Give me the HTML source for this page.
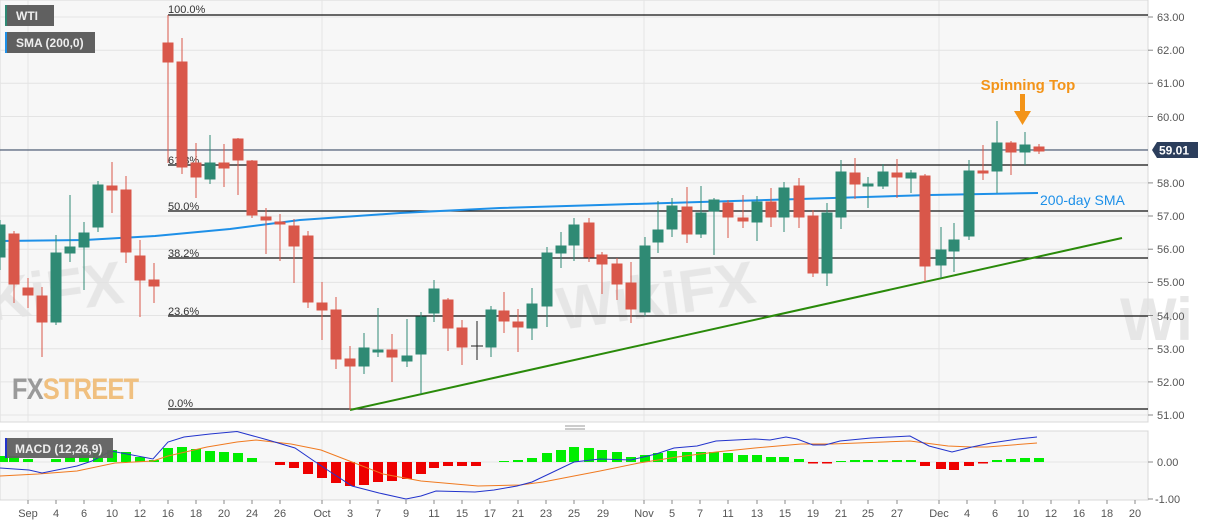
<!DOCTYPE html>
<html><head><meta charset="utf-8"><style>
html,body{margin:0;padding:0;background:#fff;}
svg{display:block;font-family:"Liberation Sans",sans-serif;}
</style></head><body>
<svg width="1207" height="526" viewBox="0 0 1207 526" xmlns="http://www.w3.org/2000/svg">
<rect x="0" y="0" width="1207" height="526" fill="#fff"/>
<rect x="0" y="0" width="1148" height="422" fill="#f7f7f7" stroke="#d8d8d8"/>
<rect x="0" y="431" width="1148" height="69" fill="#f7f7f7" stroke="#d8d8d8"/>
<g stroke="#e4e4e4" stroke-width="1">
<line x1="0" x2="1148" y1="17" y2="17"/><line x1="0" x2="1148" y1="50.2" y2="50.2"/><line x1="0" x2="1148" y1="83.3" y2="83.3"/><line x1="0" x2="1148" y1="116.5" y2="116.5"/><line x1="0" x2="1148" y1="149.7" y2="149.7"/><line x1="0" x2="1148" y1="182.9" y2="182.9"/><line x1="0" x2="1148" y1="216" y2="216"/><line x1="0" x2="1148" y1="249.2" y2="249.2"/><line x1="0" x2="1148" y1="282.4" y2="282.4"/><line x1="0" x2="1148" y1="315.5" y2="315.5"/><line x1="0" x2="1148" y1="348.7" y2="348.7"/><line x1="0" x2="1148" y1="381.9" y2="381.9"/><line x1="0" x2="1148" y1="415" y2="415"/>
<line x1="28" x2="28" y1="0" y2="422"/><line x1="322" x2="322" y1="0" y2="422"/><line x1="644" x2="644" y1="0" y2="422"/><line x1="939" x2="939" y1="0" y2="422"/>
<line x1="28" x2="28" y1="431" y2="500"/><line x1="322" x2="322" y1="431" y2="500"/><line x1="644" x2="644" y1="431" y2="500"/><line x1="939" x2="939" y1="431" y2="500"/>
<line x1="0" x2="1148" y1="462" y2="462"/>
</g>
<!-- watermarks -->
<g fill="#e2e2e2" font-weight="bold" opacity="0.8">
<text x="-10" y="320" font-size="60" transform="rotate(-8 0 320)">KiFX</text>
<text x="560" y="330" font-size="60" transform="rotate(-8 560 330)">WikiFX</text>
<text x="1120" y="340" font-size="60">Wi</text>
</g>
<text x="14" y="399" font-size="30" font-weight="bold" fill="#9a9a9a" transform="scale(0.85 1)" style="letter-spacing:-1px">FX<tspan fill="#f0c080">STREET</tspan></text>
<!-- Fib lines -->
<g stroke="#111" stroke-width="1.2">
<line x1="168" x2="1148" y1="15" y2="15"/><line x1="168" x2="1148" y1="165" y2="165"/><line x1="168" x2="1148" y1="211" y2="211"/><line x1="168" x2="1148" y1="258" y2="258"/><line x1="168" x2="1148" y1="316" y2="316"/><line x1="168" x2="1148" y1="409" y2="409"/>
</g>
<g font-size="11" fill="#333">
<text x="168" y="13">100.0%</text><text x="168" y="164">61.8%</text><text x="168" y="210">50.0%</text><text x="168" y="257">38.2%</text><text x="168" y="315">23.6%</text><text x="168" y="407">0.0%</text>
</g>
<line x1="0" x2="1148" y1="150" y2="150" stroke="#2c3e5c" stroke-width="1"/>
<!-- SMA -->
<polyline fill="none" stroke="#1e90e8" stroke-width="2" points="0,241 85,240 155,236 230,229 300,220 400,213 500,208 600,205 700,202 800,199 930,195 1038,193"/>
<text x="1040" y="205" font-size="14" fill="#1e90e8">200-day SMA</text>
<!-- trend -->
<line x1="350" y1="410" x2="1122" y2="238" stroke="#2a8a0a" stroke-width="2"/>
<!-- red candles -->
<g fill="#d9574a" stroke="#d9574a">
<line x1="14" x2="14" y1="231" y2="303"/><rect x="9" y="234" width="10" height="50"/>
<line x1="28" x2="28" y1="278" y2="308"/><rect x="23" y="288" width="10" height="7"/>
<line x1="42" x2="42" y1="287" y2="357"/><rect x="37" y="296" width="10" height="26"/>
<line x1="112" x2="112" y1="162" y2="213"/><rect x="107" y="186" width="10" height="4"/>
<line x1="126" x2="126" y1="176" y2="263"/><rect x="121" y="190" width="10" height="62"/>
<line x1="140" x2="140" y1="240" y2="317"/><rect x="135" y="256" width="10" height="24"/>
<line x1="154" x2="154" y1="263" y2="303"/><rect x="149" y="280" width="10" height="6"/>
<line x1="168" x2="168" y1="15" y2="163"/><rect x="163" y="43" width="10" height="19"/>
<line x1="182" x2="182" y1="38" y2="174"/><rect x="177" y="62" width="10" height="105"/>
<line x1="196" x2="196" y1="143" y2="198"/><rect x="191" y="163" width="10" height="14"/>
<line x1="224" x2="224" y1="144" y2="187"/><rect x="219" y="163" width="10" height="5"/>
<line x1="238" x2="238" y1="138" y2="195"/><rect x="233" y="139" width="10" height="21"/>
<line x1="252" x2="252" y1="160" y2="218"/><rect x="247" y="161" width="10" height="54"/>
<line x1="266" x2="266" y1="208" y2="254"/><rect x="261" y="217" width="10" height="3"/>
<line x1="280" x2="280" y1="214" y2="261"/><rect x="275" y="222" width="10" height="2"/>
<line x1="294" x2="294" y1="219" y2="283"/><rect x="289" y="226" width="10" height="20"/>
<line x1="308" x2="308" y1="231" y2="308"/><rect x="303" y="236" width="10" height="66"/>
<line x1="322" x2="322" y1="282" y2="340"/><rect x="317" y="303" width="10" height="7"/>
<line x1="336" x2="336" y1="297" y2="369"/><rect x="331" y="310" width="10" height="49"/>
<line x1="350" x2="350" y1="346" y2="410"/><rect x="345" y="359" width="10" height="7"/>
<line x1="392" x2="392" y1="334" y2="382"/><rect x="387" y="350" width="10" height="7"/>
<line x1="448" x2="448" y1="298" y2="351"/><rect x="443" y="300" width="10" height="28"/>
<line x1="462" x2="462" y1="320" y2="365"/><rect x="457" y="328" width="10" height="19"/>
<line x1="504" x2="504" y1="292" y2="333"/><rect x="499" y="311" width="10" height="10"/>
<line x1="518" x2="518" y1="309" y2="352"/><rect x="513" y="322" width="10" height="5"/>
<line x1="589" x2="589" y1="218" y2="262"/><rect x="584" y="223" width="10" height="34"/>
<line x1="602" x2="602" y1="252" y2="294"/><rect x="597" y="255" width="10" height="9"/>
<line x1="617" x2="617" y1="258" y2="300"/><rect x="612" y="264" width="10" height="20"/>
<line x1="631" x2="631" y1="262" y2="323"/><rect x="626" y="283" width="10" height="26"/>
<line x1="687" x2="687" y1="187" y2="243"/><rect x="682" y="207" width="10" height="27"/>
<line x1="728" x2="728" y1="200" y2="238"/><rect x="723" y="203" width="10" height="14"/>
<line x1="743" x2="743" y1="195" y2="228"/><rect x="738" y="218" width="10" height="3"/>
<line x1="771" x2="771" y1="188" y2="227"/><rect x="766" y="202" width="10" height="15"/>
<line x1="799" x2="799" y1="178" y2="228"/><rect x="794" y="186" width="10" height="31"/>
<line x1="813" x2="813" y1="210" y2="277"/><rect x="808" y="216" width="10" height="57"/>
<line x1="855" x2="855" y1="158" y2="199"/><rect x="850" y="173" width="10" height="11"/>
<line x1="897" x2="897" y1="159" y2="198"/><rect x="892" y="173" width="10" height="4"/>
<line x1="925" x2="925" y1="174" y2="282"/><rect x="920" y="176" width="10" height="90"/>
<line x1="983" x2="983" y1="145" y2="180"/><rect x="978" y="171" width="10" height="2"/>
<line x1="1011" x2="1011" y1="141" y2="175"/><rect x="1006" y="143" width="10" height="9"/>
<line x1="1039" x2="1039" y1="144" y2="154"/><rect x="1034" y="147" width="10" height="4"/>
</g>
<!-- green candles -->
<g fill="#2f8a74" stroke="#2f8a74">
<line x1="0" x2="0" y1="220" y2="270"/><rect x="-5" y="225" width="10" height="32"/>
<line x1="56" x2="56" y1="235" y2="325"/><rect x="51" y="253" width="10" height="69"/>
<line x1="70" x2="70" y1="195" y2="262"/><rect x="65" y="247" width="10" height="6"/>
<line x1="84" x2="84" y1="222" y2="290"/><rect x="79" y="233" width="10" height="14"/>
<line x1="98" x2="98" y1="181" y2="232"/><rect x="93" y="185" width="10" height="42"/>
<line x1="210" x2="210" y1="135" y2="184"/><rect x="205" y="163" width="10" height="16"/>
<line x1="364" x2="364" y1="333" y2="374"/><rect x="359" y="348" width="10" height="18"/>
<line x1="378" x2="378" y1="308" y2="357"/><rect x="373" y="350" width="10" height="2"/>
<line x1="407" x2="407" y1="319" y2="367"/><rect x="402" y="356" width="10" height="5"/>
<line x1="421" x2="421" y1="312" y2="394"/><rect x="416" y="317" width="10" height="37"/>
<line x1="434" x2="434" y1="280" y2="322"/><rect x="429" y="289" width="10" height="24"/>
<line x1="491" x2="491" y1="306" y2="357"/><rect x="486" y="310" width="10" height="37"/>
<line x1="532" x2="532" y1="288" y2="340"/><rect x="527" y="304" width="10" height="24"/>
<line x1="547" x2="547" y1="247" y2="327"/><rect x="542" y="253" width="10" height="53"/>
<line x1="561" x2="561" y1="232" y2="268"/><rect x="556" y="246" width="10" height="7"/>
<line x1="574" x2="574" y1="218" y2="261"/><rect x="569" y="225" width="10" height="20"/>
<line x1="645" x2="645" y1="237" y2="316"/><rect x="640" y="246" width="10" height="66"/>
<line x1="658" x2="658" y1="201" y2="253"/><rect x="653" y="230" width="10" height="12"/>
<line x1="672" x2="672" y1="198" y2="237"/><rect x="667" y="206" width="10" height="23"/>
<line x1="701" x2="701" y1="186" y2="238"/><rect x="696" y="213" width="10" height="21"/>
<line x1="714" x2="714" y1="198" y2="255"/><rect x="709" y="200" width="10" height="11"/>
<line x1="757" x2="757" y1="196" y2="241"/><rect x="752" y="202" width="10" height="20"/>
<line x1="784" x2="784" y1="182" y2="232"/><rect x="779" y="188" width="10" height="29"/>
<line x1="827" x2="827" y1="203" y2="286"/><rect x="822" y="213" width="10" height="60"/>
<line x1="841" x2="841" y1="160" y2="229"/><rect x="836" y="172" width="10" height="45"/>
<line x1="868" x2="868" y1="177" y2="208"/><rect x="863" y="184" width="10" height="2"/>
<line x1="883" x2="883" y1="164" y2="189"/><rect x="878" y="172" width="10" height="14"/>
<line x1="911" x2="911" y1="170" y2="193"/><rect x="906" y="173" width="10" height="5"/>
<line x1="941" x2="941" y1="227" y2="278"/><rect x="936" y="250" width="10" height="15"/>
<line x1="954" x2="954" y1="223" y2="272"/><rect x="949" y="240" width="10" height="11"/>
<line x1="969" x2="969" y1="160" y2="240"/><rect x="964" y="171" width="10" height="65"/>
<line x1="997" x2="997" y1="121" y2="193"/><rect x="992" y="143" width="10" height="28"/>
<line x1="1025" x2="1025" y1="132" y2="165"/><rect x="1020" y="145" width="10" height="7"/>
</g>
<g stroke="#222"><line x1="477" x2="477" y1="321" y2="360"/><line x1="471" x2="483" y1="346" y2="346"/></g>
<!-- spinning top -->
<text x="1028" y="90" font-size="15" font-weight="bold" fill="#f39419" text-anchor="middle">Spinning Top</text>
<rect x="1020" y="94" width="5" height="18" fill="#f39419"/>
<polygon points="1014,111 1031,111 1022.5,125" fill="#f39419"/>
<!-- price axis -->
<g stroke="#888"><line x1="1148" x2="1153" y1="17" y2="17"/><line x1="1148" x2="1153" y1="50.2" y2="50.2"/><line x1="1148" x2="1153" y1="83.3" y2="83.3"/><line x1="1148" x2="1153" y1="116.5" y2="116.5"/><line x1="1148" x2="1153" y1="182.9" y2="182.9"/><line x1="1148" x2="1153" y1="216" y2="216"/><line x1="1148" x2="1153" y1="249.2" y2="249.2"/><line x1="1148" x2="1153" y1="282.4" y2="282.4"/><line x1="1148" x2="1153" y1="315.5" y2="315.5"/><line x1="1148" x2="1153" y1="348.7" y2="348.7"/><line x1="1148" x2="1153" y1="381.9" y2="381.9"/><line x1="1148" x2="1153" y1="415" y2="415"/><line x1="1148" x2="1153" y1="462" y2="462"/><line x1="1148" x2="1153" y1="499" y2="499"/></g>
<g font-size="11" fill="#555">
<text x="1157" y="21">63.00</text><text x="1157" y="54">62.00</text><text x="1157" y="87">61.00</text><text x="1157" y="121">60.00</text><text x="1157" y="187">58.00</text><text x="1157" y="220">57.00</text><text x="1157" y="253">56.00</text><text x="1157" y="286">55.00</text><text x="1157" y="320">54.00</text><text x="1157" y="353">53.00</text><text x="1157" y="386">52.00</text><text x="1157" y="419">51.00</text>
<text x="1157" y="466">0.00</text><text x="1155" y="503">-1.00</text>
</g>
<polygon points="1152,150 1157,142 1198,142 1198,158 1157,158" fill="#2c3e5c"/>
<text x="1159" y="154.5" font-size="12" font-weight="bold" fill="#fff">59.01</text>
<!-- legends -->
<rect x="5" y="5" width="49" height="21" fill="#606060"/><rect x="5" y="5" width="2" height="21" fill="#2f8a74"/>
<text x="16" y="20" font-size="12" font-weight="bold" fill="#eee">WTI</text>
<rect x="5" y="32" width="90" height="21" fill="#606060"/><rect x="5" y="32" width="2" height="21" fill="#1e90e8"/>
<text x="16" y="47" font-size="12" font-weight="bold" fill="#eee">SMA (200,0)</text>
<g stroke="#999"><line x1="565" x2="585" y1="426" y2="426"/><line x1="565" x2="585" y1="429" y2="429"/></g>
<!-- MACD histogram -->
<g fill="#00ee00">
<rect x="-3" y="456" width="11" height="6"/><rect x="9" y="456" width="10" height="6"/><rect x="23" y="459" width="10" height="3"/><rect x="51" y="459" width="10" height="3"/><rect x="65" y="457" width="10" height="5"/><rect x="79" y="455" width="10" height="7"/><rect x="93" y="452" width="10" height="10"/><rect x="107" y="450" width="10" height="12"/><rect x="121" y="452" width="10" height="10"/><rect x="135" y="457" width="10" height="5"/><rect x="149" y="460" width="10" height="2"/><rect x="163" y="448" width="10" height="14"/><rect x="177" y="447" width="10" height="15"/><rect x="191" y="449" width="10" height="13"/><rect x="205" y="451" width="10" height="11"/><rect x="219" y="452" width="10" height="10"/><rect x="233" y="453" width="10" height="9"/><rect x="247" y="458" width="10" height="4"/>
<rect x="499" y="461" width="10" height="1"/><rect x="513" y="460" width="10" height="2"/><rect x="527" y="458" width="10" height="4"/><rect x="542" y="453" width="10" height="9"/><rect x="556" y="450" width="10" height="12"/><rect x="569" y="447" width="10" height="15"/><rect x="584" y="448" width="10" height="14"/><rect x="597" y="450" width="10" height="12"/><rect x="612" y="452" width="10" height="10"/><rect x="626" y="457" width="10" height="5"/><rect x="640" y="455" width="10" height="7"/><rect x="653" y="453" width="10" height="9"/><rect x="667" y="451" width="10" height="11"/><rect x="682" y="452" width="10" height="10"/><rect x="696" y="452" width="10" height="10"/><rect x="709" y="452" width="10" height="10"/><rect x="723" y="453" width="10" height="9"/><rect x="738" y="455" width="10" height="7"/><rect x="752" y="455" width="10" height="7"/><rect x="766" y="457" width="10" height="5"/><rect x="779" y="457" width="10" height="5"/><rect x="794" y="459" width="10" height="3"/>
<rect x="836" y="461" width="10" height="1"/><rect x="850" y="460" width="10" height="2"/><rect x="863" y="460" width="10" height="2"/><rect x="878" y="460" width="10" height="2"/><rect x="892" y="460" width="10" height="2"/><rect x="906" y="460" width="10" height="2"/>
<rect x="992" y="460" width="10" height="2"/><rect x="1006" y="459" width="10" height="3"/><rect x="1020" y="458" width="10" height="4"/><rect x="1034" y="458" width="10" height="4"/>
</g>
<g fill="#ee0000">
<rect x="275" y="462" width="10" height="3"/><rect x="289" y="462" width="10" height="6"/><rect x="303" y="462" width="10" height="12"/><rect x="317" y="462" width="10" height="16"/><rect x="331" y="462" width="10" height="21"/><rect x="345" y="462" width="10" height="24"/><rect x="359" y="462" width="10" height="23"/><rect x="373" y="462" width="10" height="20"/><rect x="387" y="462" width="10" height="19"/><rect x="402" y="462" width="10" height="17"/><rect x="416" y="462" width="10" height="12"/><rect x="429" y="462" width="10" height="6"/><rect x="443" y="462" width="10" height="4"/><rect x="457" y="462" width="10" height="4"/><rect x="471" y="462" width="10" height="4"/>
<rect x="808" y="462" width="10" height="1.5"/><rect x="822" y="462" width="10" height="1.5"/><rect x="920" y="462" width="10" height="4"/><rect x="936" y="462" width="10" height="7"/><rect x="949" y="462" width="10" height="8"/><rect x="964" y="462" width="10" height="4"/><rect x="978" y="462" width="10" height="1.5"/>
</g>
<polyline fill="none" stroke="#f07a20" stroke-width="1" points="0,476 38,474 77,471 115,463 153,461 168,456 207,447 237,442 256,440 291,444 321,450 352,462 383,474 421,481 478,486 520,485 543,482 574,476 600,471 639,463 677,457 716,452 755,448 801,444 832,444 910,441 948,446 972,447 987,447 1037,443"/>
<polyline fill="none" stroke="#2233cc" stroke-width="1" points="0,468 29,470 42,473 77,466 92,461 111,451 153,459 168,442 184,437 210,434 237,431.5 268,440 295,448 314,461 329,471 352,486 379,493 406,499 421,496 436,491 475,492 494,490 517,486 532,482 551,473 574,462 600,459 631,460 656,454 674,448 697,446 716,441 755,439 770,440 786,437 797,439 813,445 825,445 840,441 871,438 910,436 929,446 952,452 972,447 991,443 1018,439 1037,437"/>
<rect x="5" y="438" width="108" height="20" fill="#606060" opacity="0.95"/><rect x="5" y="438" width="2" height="20" fill="#2233cc"/>
<text x="15" y="453" font-size="12" font-weight="bold" fill="#eee">MACD (12,26,9)</text>
<!-- x axis -->
<g stroke="#888"><line x1="28" x2="28" y1="500" y2="504"/><line x1="56" x2="56" y1="500" y2="504"/><line x1="84" x2="84" y1="500" y2="504"/><line x1="112" x2="112" y1="500" y2="504"/><line x1="140" x2="140" y1="500" y2="504"/><line x1="168" x2="168" y1="500" y2="504"/><line x1="196" x2="196" y1="500" y2="504"/><line x1="224" x2="224" y1="500" y2="504"/><line x1="252" x2="252" y1="500" y2="504"/><line x1="280" x2="280" y1="500" y2="504"/><line x1="322" x2="322" y1="500" y2="504"/><line x1="350" x2="350" y1="500" y2="504"/><line x1="378" x2="378" y1="500" y2="504"/><line x1="406" x2="406" y1="500" y2="504"/><line x1="434" x2="434" y1="500" y2="504"/><line x1="462" x2="462" y1="500" y2="504"/><line x1="490" x2="490" y1="500" y2="504"/><line x1="518" x2="518" y1="500" y2="504"/><line x1="546" x2="546" y1="500" y2="504"/><line x1="574" x2="574" y1="500" y2="504"/><line x1="603" x2="603" y1="500" y2="504"/><line x1="644" x2="644" y1="500" y2="504"/><line x1="672" x2="672" y1="500" y2="504"/><line x1="700" x2="700" y1="500" y2="504"/><line x1="728" x2="728" y1="500" y2="504"/><line x1="757" x2="757" y1="500" y2="504"/><line x1="785" x2="785" y1="500" y2="504"/><line x1="813" x2="813" y1="500" y2="504"/><line x1="841" x2="841" y1="500" y2="504"/><line x1="868" x2="868" y1="500" y2="504"/><line x1="897" x2="897" y1="500" y2="504"/><line x1="939" x2="939" y1="500" y2="504"/><line x1="967" x2="967" y1="500" y2="504"/><line x1="995" x2="995" y1="500" y2="504"/><line x1="1023" x2="1023" y1="500" y2="504"/><line x1="1051" x2="1051" y1="500" y2="504"/><line x1="1079" x2="1079" y1="500" y2="504"/><line x1="1107" x2="1107" y1="500" y2="504"/><line x1="1135" x2="1135" y1="500" y2="504"/></g>
<g font-size="11" fill="#555" text-anchor="middle">
<text x="28" y="517">Sep</text><text x="56" y="517">4</text><text x="84" y="517">6</text><text x="112" y="517">10</text><text x="140" y="517">12</text><text x="168" y="517">16</text><text x="196" y="517">18</text><text x="224" y="517">20</text><text x="252" y="517">24</text><text x="280" y="517">26</text><text x="322" y="517">Oct</text><text x="350" y="517">3</text><text x="378" y="517">7</text><text x="406" y="517">9</text><text x="434" y="517">11</text><text x="462" y="517">15</text><text x="490" y="517">17</text><text x="518" y="517">21</text><text x="546" y="517">23</text><text x="574" y="517">25</text><text x="603" y="517">29</text><text x="644" y="517">Nov</text><text x="672" y="517">5</text><text x="700" y="517">7</text><text x="728" y="517">11</text><text x="757" y="517">13</text><text x="785" y="517">15</text><text x="813" y="517">19</text><text x="841" y="517">21</text><text x="868" y="517">25</text><text x="897" y="517">27</text><text x="939" y="517">Dec</text><text x="967" y="517">4</text><text x="995" y="517">6</text><text x="1023" y="517">10</text><text x="1051" y="517">12</text><text x="1079" y="517">16</text><text x="1107" y="517">18</text><text x="1135" y="517">20</text>
</g>
</svg>
</body></html>
